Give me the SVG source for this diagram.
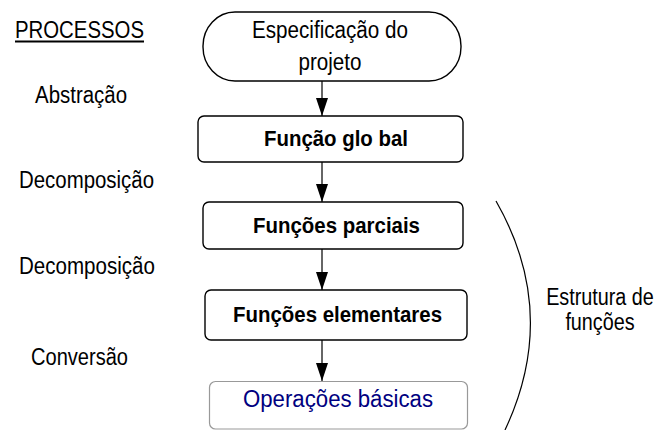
<svg xmlns="http://www.w3.org/2000/svg" width="659" height="430" viewBox="0 0 659 430">
<style>
text{font-family:"Liberation Sans",Arial,sans-serif;fill:#000}
.lbl{font-size:23px}
.b{font-size:22px;font-weight:bold;text-anchor:middle}
.box{fill:#fff;stroke:#000;stroke-width:1.4}
.conn{stroke:#333;stroke-width:1.5;fill:none}
</style>
<defs>
<marker id="ah" markerWidth="18" markerHeight="12" refX="18" refY="6" orient="auto" markerUnits="userSpaceOnUse" viewBox="0 0 18 12">
<path d="M0,0 L18,6 L0,12 Z" fill="#000"/>
</marker>
</defs>
<g id="labels">
<text class="lbl" x="15" y="38" textLength="129" lengthAdjust="spacingAndGlyphs">PROCESSOS</text>
<line x1="15" y1="41.5" x2="144" y2="41.5" stroke="#000" stroke-width="2"/>
<text class="lbl" x="35" y="103" textLength="92" lengthAdjust="spacingAndGlyphs">Abstração</text>
<text class="lbl" x="19" y="188" textLength="135" lengthAdjust="spacingAndGlyphs">Decomposição</text>
<text class="lbl" x="19" y="274" textLength="136" lengthAdjust="spacingAndGlyphs">Decomposição</text>
<text class="lbl" x="31" y="365" textLength="97" lengthAdjust="spacingAndGlyphs">Conversão</text>
</g>
<g id="connectors">
<line class="conn" x1="322" y1="81" x2="322" y2="116" marker-end="url(#ah)"/>
<line class="conn" x1="322" y1="162" x2="322" y2="202" marker-end="url(#ah)"/>
<line class="conn" x1="322" y1="249" x2="322" y2="290" marker-end="url(#ah)"/>
<line class="conn" x1="322" y1="340" x2="322" y2="381" marker-end="url(#ah)"/>
</g>
<g id="n-spec">
<rect class="box" x="203" y="12" width="258" height="69" rx="32" ry="34"/>
<text class="lbl" x="330" y="38" text-anchor="middle" textLength="156" lengthAdjust="spacingAndGlyphs">Especificação do</text>
<text class="lbl" x="330" y="70" text-anchor="middle" textLength="63" lengthAdjust="spacingAndGlyphs">projeto</text>
</g>
<g id="n-global">
<rect class="box" x="198" y="116" width="265" height="46" rx="6"/>
<text class="b" x="336" y="146" textLength="144" lengthAdjust="spacingAndGlyphs">Função glo bal</text>
</g>
<g id="n-parciais">
<rect class="box" x="203" y="202" width="260" height="47" rx="6"/>
<text class="b" x="336.5" y="233" textLength="167" lengthAdjust="spacingAndGlyphs">Funções parciais</text>
</g>
<g id="n-elementares">
<rect class="box" x="205" y="290" width="262" height="50" rx="6"/>
<text class="b" x="337.5" y="322" textLength="209" lengthAdjust="spacingAndGlyphs">Funções elementares</text>
</g>
<g id="n-operacoes">
<rect x="209.5" y="381.5" width="258" height="47.5" rx="6" fill="#fff" stroke="#999" stroke-width="1.2"/>
<text class="lbl" x="338" y="407" text-anchor="middle" textLength="190" lengthAdjust="spacingAndGlyphs" style="fill:#000080">Operações básicas</text>
</g>
<g id="n-estrutura">
<path d="M496,201 Q560,313 505,430" fill="none" stroke="#000" stroke-width="1.2"/>
<text class="lbl" text-anchor="middle" transform="translate(600,305) scale(0.86,1)">Estrutura de</text>
<text class="lbl" text-anchor="middle" transform="translate(600,330) scale(0.86,1)">funções</text>
</g>
</svg>
